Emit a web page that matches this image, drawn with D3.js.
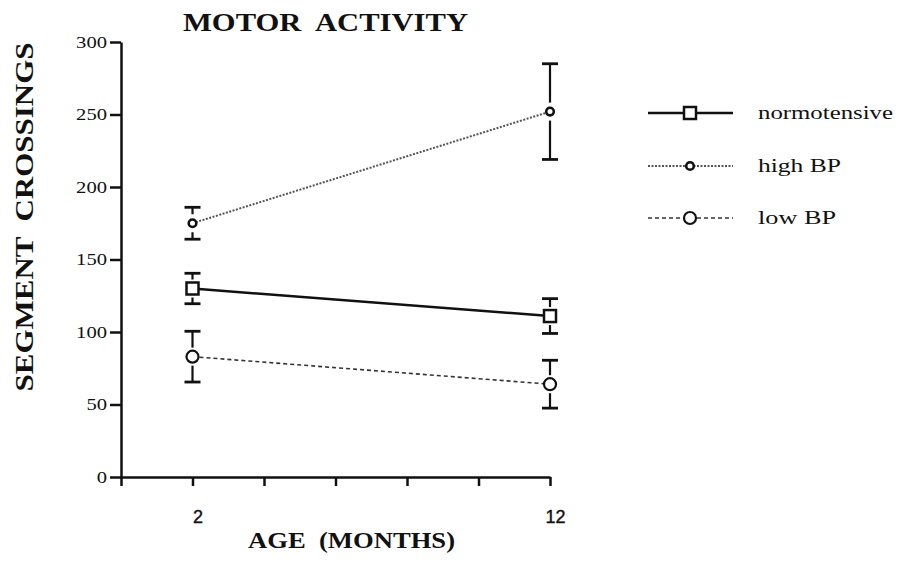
<!DOCTYPE html>
<html>
<head>
<meta charset="utf-8">
<script src="https://cdn.jsdelivr.net/npm/d3@7"></script>
<style>
  body { margin: 0; background: #fff; }
  svg { display: block; }
  text { font-family: "Liberation Serif", "DejaVu Serif", serif; fill: #111; white-space: pre; }
</style>
</head>
<body>
<svg width="899" height="569"></svg>
<script>
// data
var months = [2, 12];
var normoMean = [130, 111];
var normoSem = [10.5, 12];
var highMean = [175, 252];
var highSem = [11, 33];
var lowMean = [83, 64];
var lowSem = [17.5, 16.5];
var yTicks = [0, 50, 100, 150, 200, 250, 300];
var xTicks = [0, 2, 4, 6, 8, 10, 12];
var xLabelled = [2, 12];

var series = [
  {name: "normotensive", mean: normoMean, sem: normoSem, marker: "square", dash: null, color: "#111", width: 2.5},
  {name: "high BP", mean: highMean, sem: highSem, marker: "small", dash: "2,1.5", color: "#555", width: 2},
  {name: "low BP", mean: lowMean, sem: lowSem, marker: "circle", dash: "4,3", color: "#333", width: 1.6}
];

var svg = d3.select("svg");
var x = d3.scaleLinear().domain([0, 12]).range([121, 550]);
var y = d3.scaleLinear().domain([0, 300]).range([477, 42]);

// axes
var yAxis = svg.append("g")
  .attr("transform", "translate(121,0)")
  .call(d3.axisLeft(y).tickValues(yTicks).tickSize(11).tickSizeOuter(0).tickPadding(3));
yAxis.selectAll("text")
  .style("font-size", "16px")
  .attr("textLength", d => String(d).length * 10.3)
  .attr("lengthAdjust", "spacingAndGlyphs");

var xAxis = svg.append("g")
  .attr("transform", "translate(0,477)")
  .call(d3.axisBottom(x).tickValues(xTicks).tickSize(9).tickSizeOuter(0).tickPadding(24)
    .tickFormat(d => xLabelled.indexOf(d) >= 0 ? d : ""));
xAxis.selectAll("text")
  .attr("dx", 5)
  .style("font-family", "'Liberation Sans', Arial, sans-serif")
  .style("font-size", "18px")
  .style("stroke", "#111").style("stroke-width", 0.4);

svg.selectAll(".domain, .tick line")
  .attr("stroke", "#111")
  .attr("stroke-width", 2.5);

// titles
svg.append("text")
  .attr("x", 183).attr("y", 31)
  .attr("textLength", 285).attr("lengthAdjust", "spacingAndGlyphs")
  .style("font-size", "26px").style("font-weight", "bold")
  .text("MOTOR  ACTIVITY");

svg.append("text")
  .attr("transform", "translate(33,217) rotate(-90)")
  .attr("text-anchor", "middle")
  .attr("textLength", 349).attr("lengthAdjust", "spacingAndGlyphs")
  .style("font-size", "26px").style("font-weight", "bold")
  .text("SEGMENT  CROSSINGS");

svg.append("text")
  .attr("x", 248).attr("y", 548)
  .attr("textLength", 207).attr("lengthAdjust", "spacingAndGlyphs")
  .style("font-size", "23px").style("font-weight", "bold")
  .text("AGE  (MONTHS)");

function drawMarker(g, type, cx, cy) {
  if (type == "square") {
    g.append("rect")
      .attr("x", cx - 6).attr("y", cy - 6).attr("width", 12).attr("height", 12)
      .attr("fill", "#fff").attr("stroke", "#111").attr("stroke-width", 2.5);
  } else if (type == "small") {
    g.append("circle")
      .attr("cx", cx).attr("cy", cy).attr("r", 3.8)
      .attr("fill", "#fff").attr("stroke", "#111").attr("stroke-width", 2.6);
  } else {
    g.append("circle")
      .attr("cx", cx).attr("cy", cy).attr("r", 6)
      .attr("fill", "#fff").attr("stroke", "#111").attr("stroke-width", 2.2);
  }
}

var line = d3.line().x((d, i) => x(months[i])).y(d => y(d));

series.forEach(function(s) {
  var g = svg.append("g");
  g.append("path")
    .attr("d", line(s.mean))
    .attr("fill", "none")
    .attr("stroke", s.color)
    .attr("stroke-width", s.width)
    .attr("stroke-dasharray", s.dash);

  s.mean.forEach(function(m, i) {
    var cx = x(months[i]);
    var top = y(m + s.sem[i]), bot = y(m - s.sem[i]);
    g.append("line")
      .attr("x1", cx).attr("x2", cx).attr("y1", top).attr("y2", bot)
      .attr("stroke", "#111").attr("stroke-width", 2.2);
    [top, bot].forEach(function(cy) {
      g.append("line")
        .attr("x1", cx - 8).attr("x2", cx + 8).attr("y1", cy).attr("y2", cy)
        .attr("stroke", "#111").attr("stroke-width", 2.8);
    });
    // white gap around the marker
    g.append("line")
      .attr("x1", cx).attr("x2", cx).attr("y1", y(m) - 9).attr("y2", y(m) + 9)
      .attr("stroke", "#fff").attr("stroke-width", 4);
    drawMarker(g, s.marker, cx, y(m));
  });
});

// legend
var legendY = [113, 166, 218];
var legendLen = [135, 83, 78];
series.forEach(function(s, i) {
  var g = svg.append("g");
  g.append("line")
    .attr("x1", 648).attr("x2", 733).attr("y1", legendY[i]).attr("y2", legendY[i])
    .attr("stroke", s.color).attr("stroke-width", s.width)
    .attr("stroke-dasharray", s.dash);
  drawMarker(g, s.marker, 690, legendY[i]);
  g.append("text")
    .attr("x", 758).attr("y", legendY[i] + 6)
    .attr("textLength", legendLen[i]).attr("lengthAdjust", "spacingAndGlyphs")
    .style("font-size", "19px")
    .text(s.name);
});
</script>
</body>
</html>
